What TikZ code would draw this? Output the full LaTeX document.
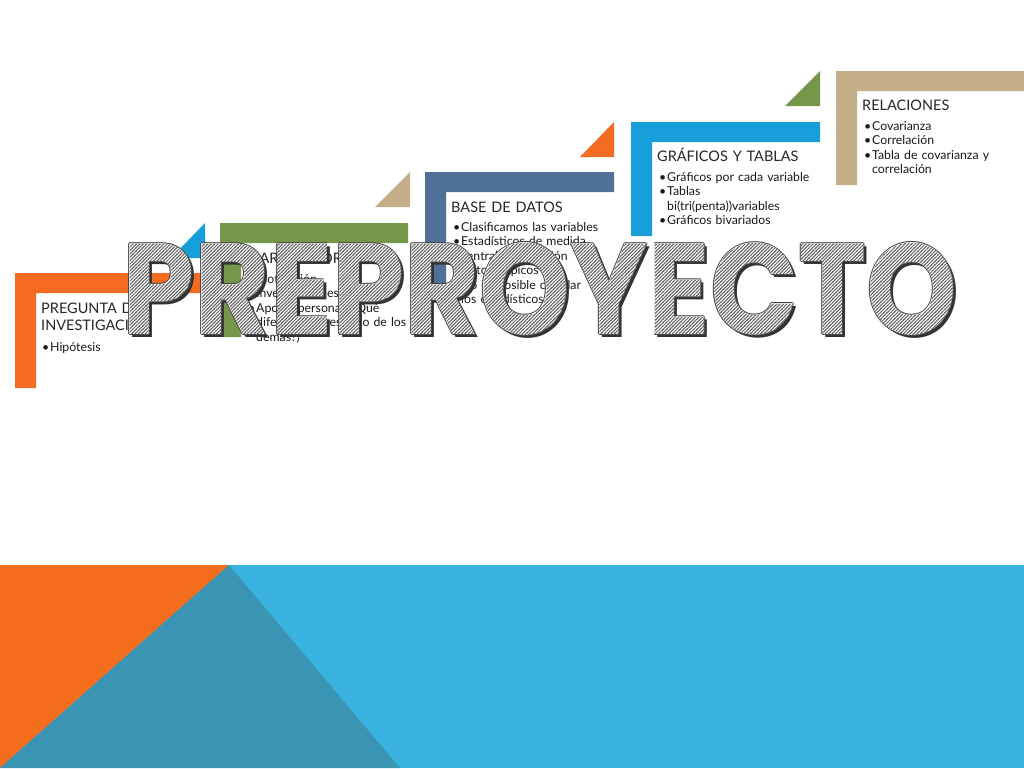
\documentclass[tikz,border=0pt]{standalone}
\usepackage{fontspec}
\usepackage{graphicx}
\usetikzlibrary{patterns}

\newfontfamily\bodyfont{Lato}
\newfontfamily\bigfont{Poppins}

\definecolor{naranja}{HTML}{F36C21}
\definecolor{oliva}{HTML}{76964A}
\definecolor{pizarra}{HTML}{50709A}
\definecolor{celeste}{HTML}{179FDA}
\definecolor{arena}{HTML}{C4AE8A}
\definecolor{fondoazul}{HTML}{3BB3E0}
\definecolor{fondoteal}{HTML}{3A95B5}
\definecolor{fondonaranja}{HTML}{F46E1E}

% diagonal hatch used as the fill colour of the big word
\pgfdeclarepatternformonly{rayado}{\pgfqpoint{-1pt}{-1pt}}{\pgfqpoint{4.4pt}{4.4pt}}{\pgfqpoint{3.4pt}{3.4pt}}{%
  \pgfsetlinewidth{1pt}%
  \pgfpathqmoveto{-0.5pt}{-0.5pt}\pgfpathqlineto{3.9pt}{3.9pt}%
  \pgfusepath{stroke}}

\newcommand\itm[1]{\hangindent=8pt\hangafter=1\noindent\makebox[8pt][l]{\textbullet}#1\par}
\newcommand\bigword{\resizebox{834pt}{92pt}{\bigfont\bfseries PREPROYECTO}}

\tikzset{
  ttl/.style={anchor=base west, inner sep=0pt, text width=190pt, align=left,
    text=black!85, font=\bodyfont\fontsize{14.5}{17}\selectfont},
  itms/.style={anchor=base west, inner sep=0pt, text width=#1, align=left,
    text=black!90, font=\bodyfont\fontsize{12.3}{14.5}\selectfont},
  bigtxt/.style={inner sep=0pt, text=#1}
}

\begin{document}
\begin{tikzpicture}[x=1pt,y=-1pt]

  \def\bandorange{(0,565) -- (229,565) -- (0,768) -- cycle}
  \def\bandteal{(229,565) -- (400,768) -- (0,768) -- cycle}

  \def\pasoA{(15,273) -- (205,273) -- (205,293) -- (36,293) -- (36,388) -- (15,388) -- cycle}
  \def\pasoB{(220,223) -- (408,223) -- (408,243) -- (241,243) -- (241,337) -- (220,337) -- cycle}
  \def\pasoC{(425,172) -- (614,172) -- (614,192) -- (446,192) -- (446,286) -- (425,286) -- cycle}
  \def\pasoD{(631,122) -- (820,122) -- (820,142) -- (652,142) -- (652,236) -- (631,236) -- cycle}
  \def\pasoE{(836,71) -- (1024,71) -- (1024,91) -- (857,91) -- (857,185) -- (836,185) -- cycle}

  \def\picoA{(171,258) -- (205,258) -- (205,223) -- cycle}
  \def\picoB{(375,207) -- (410,207) -- (410,172) -- cycle}
  \def\picoC{(580,157) -- (614,157) -- (614,122) -- cycle}
  \def\picoD{(785,106) -- (820,106) -- (820,71) -- cycle}

  \useasboundingbox (0,0) rectangle (1024,768);
  \fill[white] (0,0) rectangle (1024,768);

  % bottom band
  \fill[fondoazul] (0,565) rectangle (1024,768);
  \fill[fondonaranja] \bandorange;
  \fill[fondoteal] \bandteal;

  % steps
  \fill[naranja] \pasoA;
  \fill[celeste] \picoA;
  \fill[oliva] \pasoB;
  \fill[arena] \picoB;
  \fill[pizarra] \pasoC;
  \fill[naranja] \picoC;
  \fill[celeste] \pasoD;
  \fill[oliva] \picoD;
  \fill[arena] \pasoE;

  \node[ttl] (pregunta) at (41,313) {PREGUNTA DE\\INVESTIGACIÓN};
  \node[itms=160pt] (preguntalista) at (42,351) {\itm{Hipótesis}};

  \node[ttl] (marco) at (246,263) {MARCO TEÓRICO};
  \node[itms=170pt] (marcolista) at (248,283) {\itm{Motivación}
    \itm{Investigaciones previas}
    \itm{Aporte personal (¿Qué\newline diferencia su estudio de los\newline demás?)}};

  \node[ttl] (base) at (451,212) {BASE DE DATOS};
  \node[itms=170pt] (baselista) at (453,231) {\itm{Clasificamos las variables}
    \itm{Estadísticos de medida\newline central y dispersión}
    \itm{Datos atípicos}
    \itm{No es posible calcular\newline los estadísticos}};

  \node[ttl] (graficos) at (657,161) {GRÁFICOS Y TABLAS};
  \node[itms=170pt] (graficoslista) at (659,181) {\itm{Gráficos por cada variable}
    \itm{Tablas\newline bi(tri(penta))variables}
    \itm{Gráficos bivariados}};

  \node[ttl] (relaciones) at (862,110) {RELACIONES};
  \node[itms=160pt] (relacioneslista) at (864,130) {\itm{Covarianza}
    \itm{Correlación}
    \itm{Tabla de covarianza y\newline correlación}};

  % big hatched word
  \node[bigtxt=black!80] (sombra) at (543,292) {\bigword};
  \foreach \dx/\dy [count=\i] in {-0.8/0,0.8/0,0/-0.8,0/0.8}
    \node[bigtxt=black!75] (borde\i) at (540+\dx,289+\dy) {\bigword};
  \node[bigtxt=white] (palabra) at (540,289) {\bigword};
  \node[bigtxt=black!58] (rayas) at (540,289) {\pgfsetfillpattern{rayado}{black!58}\bigword};

\end{tikzpicture}
\end{document}
